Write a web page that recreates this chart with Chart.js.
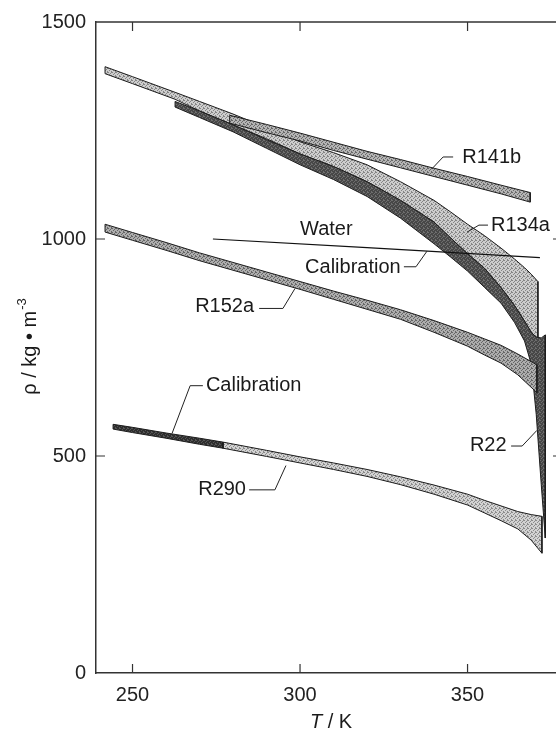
<!DOCTYPE html>
<html>
<head>
<meta charset="utf-8">
<script src="https://cdn.jsdelivr.net/npm/chart.js@4.4.0/dist/chart.umd.min.js"></script>
<style>
  html, body { margin: 0; padding: 0; background: #fff; overflow: hidden; }
  canvas { display: block; }
</style>
</head>
<body>
<canvas id="chart" width="556" height="729"></canvas>
<script>
// liquid densities, upper / lower edge of each measured band (T in K, rho in kg/m3)
const r134aT    = [241.8, 250, 262.7, 270, 280, 290, 300, 310, 320, 330, 340, 345, 350, 355, 360, 364, 367, 369, 371];
const r134aHigh = [1397, 1374, 1338, 1317, 1288, 1256, 1224, 1199, 1171, 1132, 1089, 1062, 1034, 1008, 979, 954, 934, 919, 902];
const r134aLow  = [1381, 1358, 1322, 1295, 1263, 1231, 1196, 1167, 1132, 1089, 1039, 1002, 966, 933, 888, 847, 811, 785, 760];

const r22T    = [262.7, 270, 280, 290, 300, 310, 320, 330, 340, 345, 350, 355, 360, 364, 367, 369, 370.5, 372, 373.2];
const r22High = [1317, 1295, 1263, 1229, 1196, 1167, 1132, 1089, 1039, 1002, 966, 933, 888, 847, 811, 785, 774, 772, 779];
const r22Low  = [1304, 1280, 1247, 1209, 1171, 1137, 1098, 1048, 989, 958, 926, 889, 852, 808, 765, 712, 596, 434, 311];

const r141bT    = [279, 290, 300, 310, 320, 330, 340, 350, 360, 368.7];
const r141bHigh = [1285, 1264, 1244, 1223, 1202, 1183, 1163, 1144, 1124, 1107];
const r141bLow  = [1267, 1245, 1226, 1204, 1184, 1164, 1144, 1124, 1104, 1085];

const r152aT    = [241.8, 250, 260, 270, 280, 290, 300, 310, 320, 330, 340, 350, 355, 360, 365, 370.7];
const r152aHigh = [1034, 1015, 992, 968, 946, 924, 902, 880, 859, 837, 812, 785, 770, 755, 735, 710];
const r152aLow  = [1016, 997, 974, 950, 928, 906, 884, 861, 838, 815, 785, 753, 733, 714, 687, 646];

// first five points are the propane calibration run
const r290T    = [244.2, 250, 260, 270, 277, 290, 300, 310, 320, 330, 340, 350, 355, 360, 365, 369, 372.2];
const r290High = [573, 566, 553, 541, 532, 513, 498, 484, 469, 452, 433, 412, 398, 385, 372, 365, 361];
const r290Low  = [562, 554, 541, 527, 518, 499, 484, 469, 453, 434, 412, 387, 369, 351, 332, 306, 276];
const calibCount = 5;

const waterT   = [274, 320, 371.6];
const waterRho = [1000, 980, 957];

const xTicks = [250, 300, 350];
const yTicks = [0, 500, 1000, 1500];

const FONT = '"Liberation Sans", Arial, Helvetica, sans-serif';

// labels with leader lines, in data units
const notes = [
  { text: 'R141b', at: [348.4, 1187], leader: [[345.7, 1189], [342.7, 1189], [339.4, 1162]] },
  { text: 'R134a', at: [357.0, 1030], leader: [[356.1, 1032], [353.4, 1032], [349.9, 1016]] },
  { text: 'Water', at: [300.0, 1021], leader: null },
  { text: 'Calibration', at: [301.5, 934], leader: [[331.0, 936], [334.6, 936], [337.9, 972]] },
  { text: 'R152a', at: [268.7, 845], leader: [[287.8, 840], [294.9, 840], [298.5, 886]] },
  { text: 'Calibration', at: [271.9, 662], leader: [[271.0, 662], [267.2, 662], [261.8, 552]] },
  { text: 'R290', at: [269.6, 422], leader: [[284.8, 422], [292.5, 422], [295.8, 478]] },
  { text: 'R22', at: [350.7, 525], leader: [[363.0, 523], [366.3, 523], [370.7, 559]] }
];

// closed outline: upper edge left to right, lower edge back
function band(temps, high, low) {
  const pts = temps.map((t, i) => ({ x: t, y: high[i] }));
  for (let i = temps.length - 1; i >= 0; i--) pts.push({ x: temps[i], y: low[i] });
  pts.push(pts[0]);
  return pts;
}

function stipple(base, dot) {
  const c = document.createElement('canvas');
  c.width = 4; c.height = 4;
  const g = c.getContext('2d');
  g.fillStyle = base;
  g.fillRect(0, 0, 4, 4);
  g.fillStyle = dot;
  [[0, 0], [2, 1], [1, 2], [3, 3], [3, 0]].forEach(p => g.fillRect(p[0], p[1], 1, 1));
  return g.createPattern(c, 'repeat');
}

function bandSet(label, points, fillStyle) {
  return {
    label: label,
    data: points,
    showLine: true,
    fill: 'shape',
    backgroundColor: fillStyle,
    borderColor: '#1c1c1c',
    borderWidth: 1,
    pointRadius: 0,
    tension: 0
  };
}

const framePlugin = {
  id: 'frame',
  afterDraw(chart) {
    const { ctx, chartArea: a, scales: { x, y } } = chart;
    ctx.save();
    ctx.strokeStyle = '#333';
    ctx.lineWidth = 1.5;
    ctx.beginPath();
    ctx.moveTo(a.left, a.top);
    ctx.lineTo(a.right, a.top);
    ctx.stroke();

    // inward ticks
    ctx.lineWidth = 1.2;
    ctx.beginPath();
    xTicks.forEach(v => {
      const px = x.getPixelForValue(v);
      ctx.moveTo(px, a.bottom); ctx.lineTo(px, a.bottom - 9);
      ctx.moveTo(px, a.top); ctx.lineTo(px, a.top + 9);
    });
    [500, 1000].forEach(v => {
      const py = y.getPixelForValue(v);
      ctx.moveTo(a.left, py); ctx.lineTo(a.left + 9, py);
      ctx.moveTo(a.right, py); ctx.lineTo(a.right - 3, py);
    });
    ctx.stroke();

    // labels and leaders
    ctx.strokeStyle = '#222';
    ctx.lineWidth = 1;
    ctx.fillStyle = '#1a1a1a';
    ctx.font = '20px ' + FONT;
    ctx.textAlign = 'left';
    ctx.textBaseline = 'middle';
    notes.forEach(n => {
      ctx.fillText(n.text, x.getPixelForValue(n.at[0]), y.getPixelForValue(n.at[1]));
      if (n.leader) {
        ctx.beginPath();
        n.leader.forEach((p, i) => {
          const px = x.getPixelForValue(p[0]), py = y.getPixelForValue(p[1]);
          if (i === 0) ctx.moveTo(px, py); else ctx.lineTo(px, py);
        });
        ctx.stroke();
      }
    });

    // x title: T / K
    ctx.textBaseline = 'alphabetic';
    ctx.font = 'italic 20px ' + FONT;
    const tW = ctx.measureText('T').width;
    ctx.font = '20px ' + FONT;
    const rest = ' / K';
    const rW = ctx.measureText(rest).width;
    const xs = 331 - (tW + rW) / 2;
    ctx.font = 'italic 20px ' + FONT;
    ctx.fillText('T', xs, 728);
    ctx.font = '20px ' + FONT;
    ctx.fillText(rest, xs + tW, 728);

    // y title: rho / kg . m^-3
    ctx.translate(30, 347);
    ctx.rotate(-Math.PI / 2);
    const main = 'ρ / kg • m';
    const mW = ctx.measureText(main).width;
    ctx.font = '13px ' + FONT;
    const sW = ctx.measureText('-3').width;
    const start = -(mW + sW) / 2;
    ctx.font = '20px ' + FONT;
    ctx.textBaseline = 'middle';
    ctx.fillText(main, start, 0);
    ctx.font = '13px ' + FONT;
    ctx.fillText('-3', start + mW + 1, -8);
    ctx.restore();
  }
};

const tickFont = { family: FONT, size: 20 };

new Chart(document.getElementById('chart'), {
  type: 'scatter',
  data: {
    datasets: [
      { label: 'Water', data: waterT.map((t, i) => ({ x: t, y: waterRho[i] })), showLine: true,
        fill: false, borderColor: '#111', borderWidth: 1.2, pointRadius: 0 },
      bandSet('R141b', band(r141bT, r141bHigh, r141bLow), stipple('#b4b4b4', '#6a6a6a')),
      bandSet('R152a', band(r152aT, r152aHigh, r152aLow), stipple('#adadad', '#666')),
      bandSet('Calibration', band(r290T.slice(0, calibCount), r290High.slice(0, calibCount), r290Low.slice(0, calibCount)), stipple('#2e2e2e', '#555')),
      bandSet('R290', band(r290T.slice(calibCount - 1), r290High.slice(calibCount - 1), r290Low.slice(calibCount - 1)), stipple('#d2d2d2', '#8c8c8c')),
      bandSet('R22', band(r22T, r22High, r22Low), stipple('#474747', '#6e6e6e')),
      bandSet('R134a', band(r134aT, r134aHigh, r134aLow), stipple('#cdcdcd', '#858585'))
    ]
  },
  options: {
    responsive: false,
    animation: false,
    devicePixelRatio: 1,
    layout: { padding: { top: 18, right: 0, bottom: 0, left: 0 } },
    plugins: { legend: { display: false }, tooltip: { enabled: false } },
    scales: {
      x: {
        type: 'linear',
        min: 239.1,
        max: 376.4,
        afterBuildTicks: s => { s.ticks = xTicks.map(v => ({ value: v })); },
        afterFit: s => { s.height = 56; },
        grid: { drawOnChartArea: false, drawTicks: false },
        border: { color: '#333', width: 1.5 },
        ticks: { padding: 10, color: '#222', font: tickFont, maxRotation: 0, callback: v => String(v) }
      },
      y: {
        min: 0,
        max: 1500,
        afterBuildTicks: s => { s.ticks = yTicks.map(v => ({ value: v })); },
        afterFit: s => { s.width = 96; },
        grid: { drawOnChartArea: false, drawTicks: false },
        border: { color: '#333', width: 1.5 },
        ticks: { padding: 10, color: '#222', font: tickFont, callback: v => String(v) }
      }
    }
  },
  plugins: [framePlugin]
});
</script>
</body>
</html>
